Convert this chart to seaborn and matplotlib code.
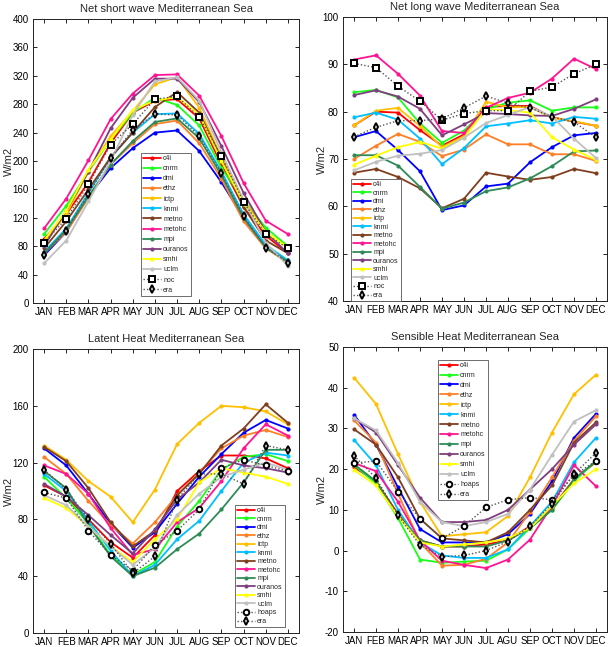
import numpy as np
import pandas as pd
import matplotlib
matplotlib.use("Agg")
import matplotlib.pyplot as plt
import seaborn as sns

months = ["JAN", "FEB", "MAR", "APR", "MAY", "JUN", "JUL", "AUG", "SEP", "OCT", "NOV", "DEC"]
months_sh = ["JAN", "FEB", "MAR", "APR", "MAY", "JUN", "JUL", "AGU", "SEP", "OCT", "NOV", "DEC"]
models = ["c4i", "cnrm", "dmi", "ethz", "ictp", "knmi", "metno", "metohc", "mpi", "ouranos", "smhi", "uclm"]

# Net short wave
sw = {
    "c4i":     [90, 125, 170, 225, 268, 285, 287, 260, 195, 135, 95, 70],
    "cnrm":    [97, 137, 185, 230, 268, 289, 279, 250, 190, 145, 106, 80],
    "dmi":     [67, 100, 150, 190, 218, 240, 243, 214, 170, 120, 78, 58],
    "ethz":    [70, 100, 148, 195, 225, 252, 257, 225, 175, 115, 77, 57],
    "ictp":    [85, 125, 185, 235, 270, 308, 318, 275, 205, 145, 100, 78],
    "knmi":    [72, 105, 155, 205, 240, 266, 267, 238, 185, 125, 82, 60],
    "metno":   [77, 115, 160, 205, 240, 276, 297, 268, 203, 135, 88, 70],
    "metohc":  [105, 147, 201, 259, 295, 321, 322, 292, 235, 169, 116, 97],
    "mpi":     [70, 103, 150, 195, 228, 255, 260, 232, 180, 120, 78, 58],
    "ouranos": [80, 130, 185, 246, 289, 316, 316, 283, 221, 155, 100, 70],
    "smhi":    [88, 130, 188, 230, 272, 285, 290, 265, 200, 140, 100, 78],
    "uclm":    [56, 88, 143, 200, 265, 312, 318, 285, 212, 145, 85, 52],
    "noc":     [85, 119, 167, 223, 252, 287, 291, 262, 207, 142, 97, 77],
    "era":     [67, 102, 154, 204, 244, 266, 265, 235, 183, 122, 78, 57],
}

# Net long wave
lw = {
    "c4i":     [77.1, 80.0, 79.8, 76.1, 72.8, 75.2, 81.0, 81.2, 81.2, 78.8, 77.9, 77.0],
    "cnrm":    [84.1, 84.6, 83.0, 77.5, 73.4, 76.0, 80.5, 81.9, 82.4, 80.2, 80.9, 80.9],
    "dmi":     [74.6, 75.9, 71.9, 67.4, 59.2, 60.2, 64.2, 64.8, 69.3, 72.5, 75.0, 75.5],
    "ethz":    [70.0, 72.8, 75.3, 73.6, 70.6, 72.0, 75.2, 73.1, 73.1, 71.0, 71.0, 69.6],
    "ictp":    [77.1, 80.2, 80.8, 77.0, 72.5, 74.8, 82.1, 80.9, 81.0, 78.7, 78.0, 77.0],
    "knmi":    [78.8, 79.8, 78.3, 74.3, 68.9, 72.3, 76.9, 77.5, 78.2, 77.5, 78.9, 78.5],
    "metno":   [67.1, 67.9, 66.2, 63.8, 59.6, 61.6, 67.1, 66.3, 65.6, 66.2, 67.9, 67.0],
    "metohc":  [91.0, 91.9, 88.0, 83.4, 75.9, 75.5, 80.8, 82.9, 84.0, 87.0, 91.2, 89.0],
    "mpi":     [70.8, 70.8, 68.6, 64.1, 59.5, 60.8, 63.2, 64.0, 65.9, 68.5, 71.6, 71.8],
    "ouranos": [83.5, 84.5, 83.2, 80.6, 75.0, 77.3, 79.7, 79.5, 79.2, 79.1, 80.6, 82.6],
    "smhi":    [68.8, 70.7, 72.5, 73.6, 72.2, 74.5, 80.5, 80.3, 79.8, 74.6, 72.0, 69.8],
    "uclm":    [67.6, 69.4, 70.7, 71.1, 71.9, 74.5, 77.6, 79.3, 81.0, 79.0, 74.3, 70.2],
    "noc":     [90.2, 89.3, 85.4, 82.2, 78.2, 79.6, 80.2, 80.2, 84.3, 85.2, 88.0, 90.0],
    "era":     [74.7, 76.7, 78.1, 78.1, 78.5, 80.8, 83.3, 81.8, 80.8, 78.9, 77.8, 74.6],
}

# Latent heat
lh = {
    "c4i":     [104, 96, 80, 64, 53, 69, 100, 114, 125, 125, 123, 116],
    "cnrm":    [110, 95, 77, 55, 41, 50, 75, 93, 115, 124, 126, 121],
    "dmi":     [130, 118, 98, 77, 60, 71, 91, 110, 126, 141, 150, 144],
    "ethz":    [124, 112, 93, 76, 63, 78, 97, 113, 130, 139, 143, 138],
    "ictp":    [132, 122, 107, 96, 78, 101, 133, 148, 160, 159, 156, 147],
    "knmi":    [112, 100, 79, 58, 40, 48, 66, 79, 100, 120, 127, 125],
    "metno":   [131, 121, 102, 78, 61, 72, 97, 112, 132, 144, 161, 148],
    "metohc":  [118, 112, 98, 74, 55, 59, 78, 88, 107, 130, 147, 139],
    "mpi":     [114, 102, 76, 54, 40, 46, 59, 70, 87, 106, 129, 129],
    "ouranos": [105, 96, 83, 69, 56, 73, 94, 106, 122, 118, 116, 113],
    "smhi":    [95, 88, 75, 61, 50, 66, 80, 106, 116, 113, 110, 105],
    "uclm":    [97, 90, 75, 61, 48, 60, 83, 98, 110, 115, 120, 115],
    "hoaps":   [99, 95, 72, 55, 44, 62, 72, 87, 116, 122, 118, 114],
    "era":     [115, 101, 80, 63, 42, 54, 94, 112, 112, 105, 132, 129],
}

# Sensible heat
sh = {
    "c4i":     [20.5, 17.0, 9.0, 2.5, 1.0, 1.0, 1.5, 2.5, 6.0, 10.5, 17.5, 21.7],
    "cnrm":    [21.0, 16.5, 8.0, -2.2, -3.0, -2.7, -2.5, 0.3, 5.5, 10.0, 17.0, 22.0],
    "dmi":     [33.4, 26.0, 15.5, 5.3, 2.0, 2.0, 2.0, 4.0, 9.0, 17.0, 27.7, 33.6],
    "ethz":    [32.0, 26.5, 14.0, 2.0, -3.7, -3.5, -2.0, 2.0, 9.5, 18.0, 27.0, 33.0],
    "ictp":    [42.5, 36.0, 23.7, 12.0, 3.5, 4.0, 4.5, 8.5, 18.0, 29.0, 38.4, 43.2],
    "knmi":    [27.2, 21.0, 10.0, 2.0, -1.2, -1.8, -1.8, 0.3, 6.0, 12.0, 21.7, 27.7],
    "metno":   [29.8, 26.0, 18.0, 7.8, 3.0, 2.5, 2.0, 4.5, 10.0, 16.0, 26.5, 31.5],
    "metohc":  [21.5, 19.5, 12.0, 2.5, -2.5, -3.5, -4.3, -2.2, 2.7, 11.0, 21.0, 15.8],
    "mpi":     [21.2, 17.0, 8.5, 2.5, 1.0, 1.0, 1.0, 2.5, 5.5, 10.0, 17.5, 22.0],
    "ouranos": [32.5, 29.0, 21.0, 13.0, 7.0, 7.0, 7.5, 10.0, 15.0, 20.0, 26.0, 31.0],
    "smhi":    [19.8, 16.0, 8.5, 2.0, 1.0, 1.5, 2.0, 3.0, 5.5, 11.0, 16.5, 20.0],
    "uclm":    [32.5, 29.5, 21.5, 12.0, 7.0, 6.0, 7.0, 9.0, 15.0, 23.5, 31.7, 34.5],
    "hoaps":   [21.5, 22.0, 14.5, 7.8, 3.0, 6.0, 10.6, 12.5, 13.0, 12.5, 18.5, 22.0],
    "era":     [23.3, 17.8, 8.7, 1.3, -1.5, -1.2, 0.0, 2.2, 6.0, 11.5, 18.8, 24.0],
}

colors = {
    "c4i": "#ff0000", "cnrm": "#19ff19", "dmi": "#0000ff", "ethz": "#ff7f27",
    "ictp": "#ffc000", "knmi": "#00bfff", "metno": "#7f3f1f", "metohc": "#ff1493",
    "mpi": "#2e8b57", "ouranos": "#7f3f7f", "smhi": "#ffff00", "uclm": "#c0c0c0",
}

sns.set_theme(style="white")
plt.rcParams["font.family"] = ["Liberation Sans", "DejaVu Sans"]

fig = plt.figure(figsize=(6.09, 6.47), dpi=100)
W, H = 609.0, 647.0

def make_ax(l, t, r, b):
    return fig.add_axes([l / W, 1 - b / H, (r - l) / W, (b - t) / H])

panels = [
    dict(box=(33, 19, 299, 303), data=sw, obs=["noc", "era"], ticks=months,
         ylim=(0, 400), yt=np.arange(0, 401, 40), title="Net short wave Mediterranean Sea",
         leg=(141, 153), ls=0.45, ylab=(14, 161)),
    dict(box=(343, 17, 607, 301), data=lw, obs=["noc", "era"], ticks=months,
         ylim=(40, 100), yt=np.arange(40, 101, 10), title="Net long wave Mediterranean Sea",
         leg=(351, 179), ls=0.22, ylab=(327, 159)),
    dict(box=(33, 349, 299, 633), data=lh, obs=["hoaps", "era"], ticks=months,
         ylim=(0, 200), yt=np.arange(0, 201, 40), title="Latent Heat Mediterranean Sea",
         leg=(235, 505), ls=0.22, ylab=(14, 491)),
    dict(box=(343, 347, 607, 632), data=sh, obs=["hoaps", "era"], ticks=months_sh,
         ylim=(-20, 50), yt=np.arange(-20, 51, 10), title="Sensible Heat Mediterranean Sea",
         leg=(438, 360), ls=0.42, ylab=(327, 489)),
]

obs_marker = {"noc": "s", "era": "d", "hoaps": "o"}

for p in panels:
    ax = make_ax(*p["box"])
    d = p["data"]
    x = np.arange(1, 13)
    for m in models:
        df = pd.DataFrame({"month": x, "value": d[m]})
        sns.lineplot(data=df, x="month", y="value", ax=ax, color=colors[m], lw=1.3,
                     marker="o", markersize=3, markeredgewidth=0, label=m)
    for o in p["obs"]:
        df = pd.DataFrame({"month": x, "value": d[o]})
        sns.lineplot(data=df, x="month", y="value", ax=ax, color="#555555", lw=1.0,
                     linestyle=(0, (1, 1.5)), marker=obs_marker[o], markersize=4,
                     markerfacecolor="white", markeredgecolor="black", markeredgewidth=1.4,
                     label=o)
    ax.set_xlim(0.5, 12.5)
    ax.set_ylim(*p["ylim"])
    ax.set_xticks(x)
    ax.set_xticklabels(p["ticks"], fontsize=7)
    ax.set_yticks(p["yt"])
    ax.set_yticklabels([str(v) for v in p["yt"]], fontsize=7)
    ax.set_xlabel("")
    ax.set_ylabel("W/m2", fontsize=8)
    yx, yy = p["ylab"]
    ax.yaxis.set_label_coords(yx / W, 1 - yy / H, transform=fig.transFigure)
    ax.set_title(p["title"], fontsize=8, pad=5)
    ax.tick_params(direction="in", length=3, width=0.6, top=True, right=True,
                   bottom=True, left=True, pad=3, colors="black")
    for s in ax.spines.values():
        s.set_color("#222222")
        s.set_linewidth(0.7)
    lx, ly = p["leg"]
    leg = ax.legend(loc="upper left", bbox_to_anchor=(lx / W, 1 - ly / H),
                    bbox_transform=fig.transFigure, fontsize=5, frameon=True,
                    fancybox=False, edgecolor="#555555", framealpha=1,
                    handlelength=2.6, handletextpad=0.3, labelspacing=p["ls"],
                    borderpad=0.3, borderaxespad=0)
    leg.get_frame().set_linewidth(0.6)

fig.savefig("out.png", dpi=100)
